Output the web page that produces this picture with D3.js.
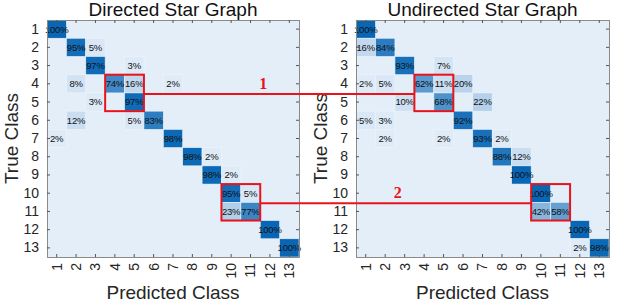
<!DOCTYPE html>
<html>
<head>
<meta charset="utf-8">
<script src="https://cdn.jsdelivr.net/npm/d3@7"></script>
<style>
  body { margin: 0; background: #fff; }
  svg { display: block; }
</style>
</head>
<body>
<script>
// class labels 1..13 (tick labels on both axes)
const classes = ["1","2","3","4","5","6","7","8","9","10","11","12","13"];

const titles = ["Directed Star Graph", "Undirected Star Graph"];

// [true class, predicted class, percent]
const directedCells = [
  [1,1,100],
  [2,2,95],[2,3,5],
  [3,3,97],[3,5,3],
  [4,2,8],[4,4,74],[4,5,16],[4,7,2],
  [5,3,3],[5,5,97],
  [6,2,12],[6,5,5],[6,6,83],
  [7,1,2],[7,7,98],
  [8,8,98],[8,9,2],
  [9,9,98],[9,10,2],
  [10,10,95],[10,11,5],
  [11,10,23],[11,11,77],
  [12,12,100],
  [13,13,100]
];

const undirectedCells = [
  [1,1,100],
  [2,1,16],[2,2,84],
  [3,3,93],[3,5,7],
  [4,1,2],[4,2,5],[4,4,62],[4,5,11],[4,6,20],
  [5,3,10],[5,5,68],[5,7,22],
  [6,1,5],[6,2,3],[6,6,92],
  [7,2,2],[7,5,2],[7,7,93],[7,8,2],
  [8,8,88],[8,9,12],
  [9,9,100],
  [10,10,100],
  [11,10,42],[11,11,58],
  [12,12,100],
  [13,12,2],[13,13,98]
];

// highlighted 2x2 blocks (top-left class) and their connector labels
const highlightStart = [4, 10];
const highlightLabels = ["1", "2"];

const W = 640, H = 304;
const panels = [
  { x0: 47, x1: 299, cells: directedCells },
  { x0: 356, x1: 609, cells: undirectedCells }
];
const Y0 = 20, Y1 = 257;

const color = d3.scaleLinear().domain([0, 100]).range(["#e4eef9", "#0866b5"]);

const svg = d3.select("body").append("svg")
  .attr("width", W).attr("height", H)
  .style("font-family", "'Liberation Sans', Arial, Helvetica, sans-serif");

const y = d3.scaleBand().domain(classes).range([Y0, Y1]);

panels.forEach((p, i) => {
  const x = d3.scaleBand().domain(classes).range([p.x0, p.x1]);
  p.x = x;
  const g = svg.append("g");

  g.append("rect")
    .attr("x", p.x0).attr("y", Y0)
    .attr("width", p.x1 - p.x0).attr("height", Y1 - Y0)
    .attr("fill", color(0));

  g.selectAll("rect.cell").data(p.cells).join("rect")
    .attr("class", "cell")
    .attr("x", d => x(String(d[1])))
    .attr("y", d => y(String(d[0])))
    .attr("width", x.bandwidth())
    .attr("height", y.bandwidth())
    .attr("fill", d => color(d[2]))
    .attr("stroke", "#eef4fb")
    .attr("stroke-width", 0.6);

  g.selectAll("text.val").data(p.cells).join("text")
    .attr("class", "val")
    .attr("x", d => x(String(d[1])) + x.bandwidth() / 2)
    .attr("y", d => y(String(d[0])) + y.bandwidth() / 2 + 3.4)
    .attr("text-anchor", "middle")
    .attr("font-size", 9.5)
    .attr("letter-spacing", -0.2)
    .attr("fill", "#111")
    .text(d => d[2] + "%");

  // axes
  const tickLen = 3;
  const left = g.append("g").attr("transform", `translate(${p.x0},0)`)
    .call(d3.axisLeft(y).tickSize(-tickLen).tickPadding(8));
  const right = g.append("g").attr("transform", `translate(${p.x1},0)`)
    .call(d3.axisRight(y).tickSize(-tickLen).tickFormat(""));
  const top = g.append("g").attr("transform", `translate(0,${Y0})`)
    .call(d3.axisTop(x).tickSize(-tickLen).tickFormat(""));
  const bottom = g.append("g").attr("transform", `translate(0,${Y1})`)
    .call(d3.axisBottom(x).tickSize(-tickLen).tickPadding(6));

  [left, right, top, bottom].forEach(a => {
    a.select(".domain").attr("stroke", "#8a8a8a").attr("stroke-width", 1);
    a.selectAll(".tick line").attr("stroke", "#555");
    a.selectAll("text").attr("font-size", 14).attr("fill", "#262626")
      .attr("font-family", "'Liberation Sans', Arial, sans-serif");
  });
  bottom.selectAll(".tick text")
    .attr("transform", "rotate(-90)")
    .attr("text-anchor", "end")
    .attr("dy", "0.35em")
    .attr("x", -6).attr("y", 0);

  const cx = (p.x0 + p.x1) / 2;
  svg.append("text")
    .attr("x", cx).attr("y", 16)
    .attr("text-anchor", "middle")
    .attr("font-size", 19).attr("fill", "#111")
    .text(titles[i]);
  svg.append("text")
    .attr("x", cx).attr("y", 299)
    .attr("text-anchor", "middle")
    .attr("font-size", 19).attr("fill", "#262626")
    .text("Predicted Class");
  svg.append("text")
    .attr("transform", `translate(${p.x0 - 29.5},${(Y0 + Y1) / 2}) rotate(-90)`)
    .attr("text-anchor", "middle")
    .attr("font-size", 19).attr("fill", "#262626")
    .text("True Class");
});

// red highlight boxes and connectors
const red = "#e8141b";
highlightStart.forEach((s, k) => {
  const a = String(s), b = String(s + 1);
  const boxes = panels.map(p => ({
    x: p.x(a), y: y(a),
    w: p.x.bandwidth() * 2, h: y.bandwidth() * 2
  }));
  boxes.forEach(bx => {
    svg.append("rect")
      .attr("x", bx.x).attr("y", bx.y)
      .attr("width", bx.w).attr("height", bx.h)
      .attr("fill", "none").attr("stroke", red).attr("stroke-width", 2);
  });
  const ly = y(b) + 1;
  const lx0 = boxes[0].x + boxes[0].w, lx1 = boxes[1].x;
  svg.append("line")
    .attr("x1", lx0).attr("x2", lx1).attr("y1", ly).attr("y2", ly)
    .attr("stroke", red).attr("stroke-width", 2);
  svg.append("text")
    .attr("x", (lx0 + lx1) / 2 - 16 * (1 - k) + 2 * k)
    .attr("y", ly - 5)
    .attr("text-anchor", "middle")
    .attr("font-family", "'Liberation Serif', 'DejaVu Serif', serif")
    .attr("font-weight", "bold")
    .attr("font-size", 16)
    .attr("fill", red)
    .text(highlightLabels[k]);
});
</script>
</body>
</html>
